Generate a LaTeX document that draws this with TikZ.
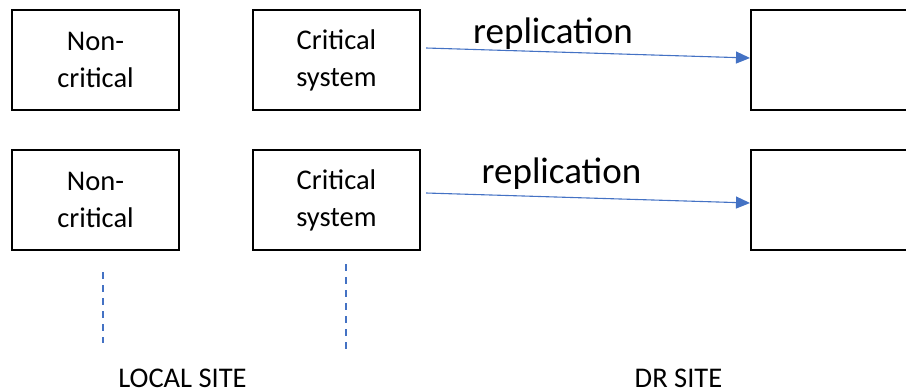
\documentclass[tikz,border=0pt]{standalone}
\usepackage{fontspec}
\setmainfont{Carlito}
\usetikzlibrary{arrows.meta,calc}
\definecolor{linkblue}{HTML}{4472C4}
\begin{document}
\begin{tikzpicture}[x=1pt,y=-1pt,
  sysbox/.style={draw=black,line width=2.2pt,minimum width=167pt,minimum height=100pt,
    inner sep=0pt,align=center,font=\fontsize{28.5}{37}\selectfont},
  drbox/.style={draw=black,line width=2.2pt,minimum width=190pt,minimum height=100pt,inner sep=0pt},
  repl/.style={draw=linkblue,line width=1.1pt,-{Triangle[length=14pt,width=12pt]}},
  replabel/.style={font=\fontsize{37}{40}\selectfont,inner sep=0pt,anchor=base},
  sitelabel/.style={font=\fontsize{28.5}{30}\selectfont,inner sep=0pt,text depth=0pt,anchor=base},
  siteline/.style={draw=linkblue,line width=1.4pt,dash pattern=on 7pt off 6pt}]
\useasboundingbox (0,0) rectangle (906,391);

% local site, top row
\node[sysbox] (n1) at (95.5,60) {Non-\\critical};
\node[sysbox] (c1) at (336.5,60) {Critical\\system};
% local site, bottom row
\node[sysbox] (n2) at (95.5,200) {Non-\\critical};
\node[sysbox] (c2) at (336.5,200) {Critical\\system};

% DR site boxes, running past the right edge
\node[drbox,anchor=west] (d1) at (750,60) {};
\node[drbox,anchor=west] (d2) at (750,200) {};

% replication links
\draw[repl] ($(c1.east)+(5,-12)$) -- ($(d1.west)+(0,-2)$);
\draw[repl] ($(c2.east)+(5,-7)$) -- ($(d2.west)+(0,3)$);
\node[replabel] (r1) at (553,43) {replication};
\node[replabel] (r2) at (561.5,183) {replication};

% site boundary markers
\coordinate (s1a) at (103,272);
\coordinate (s1b) at (103,343);
\coordinate (s2a) at (346,264);
\coordinate (s2b) at (346,355);
\draw[siteline] (s1a) -- (s1b);
\draw[siteline] (s2a) -- (s2b);

\node[sitelabel] (ls) at (182.5,387) {LOCAL SITE};
\node[sitelabel] (ds) at (678.5,387) {DR SITE};
\end{tikzpicture}
\end{document}
